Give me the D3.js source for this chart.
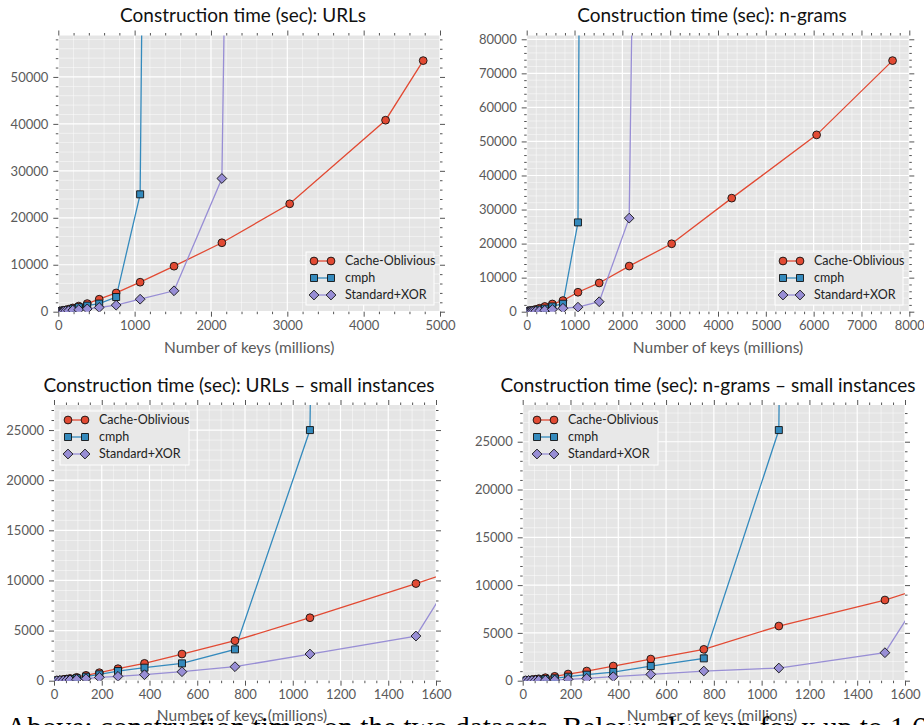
<!DOCTYPE html>
<html>
<head>
<meta charset="utf-8">
<script src="https://cdn.jsdelivr.net/npm/d3@7/dist/d3.min.js"></script>
<style>
  html, body { margin: 0; padding: 0; background: #ffffff; overflow: hidden; }
  svg { display: block; }
  text { font-family: Lato, "Open Sans", sans-serif; }
</style>
</head>
<body>
<svg id="chart" width="924" height="725"></svg>
<script>
// ---------------- DATA ----------------
const seriesNames = ["Cache-Oblivious", "cmph", "Standard+XOR"];

// URLs dataset (number of keys in millions)
const urlKeys   = [12, 25, 39, 53, 67, 95, 134, 190, 268, 379, 536, 758, 1072, 1516, 2143, 3031, 4287, 4780];
const urlCO     = [40, 80, 120, 170, 220, 332, 532, 798, 1197, 1729, 2660, 3990, 6280, 9690, 14680, 22980, 40780, 53475];
const urlCmph   = [25, 50, 80, 110, 150, 250, 400, 632, 964, 1297, 1729, 3125, 25000, 780000, null, null, null, null];
const urlXor    = [10, 25, 40, 60, 80, 130, 200, 332, 432, 598, 898, 1396, 2660, 4455, 28370, 1030000, null, null];

// n-grams dataset
const ngramKeys = [12, 25, 39, 53, 67, 95, 134, 190, 268, 379, 536, 758, 1072, 1516, 2143, 3031, 4287, 6062, 7650];
const ngramCO   = [35, 70, 110, 150, 200, 314, 453, 697, 1011, 1534, 2266, 3278, 5718, 8438, 13400, 19950, 33350, 51930, 73740];
const ngramCmph = [20, 40, 60, 80, 110, 170, 244, 418, 628, 907, 1534, 2336, 26220, 1200000, null, null, null, null, null];
const ngramXor  = [8, 15, 25, 35, 45, 60, 70, 140, 244, 418, 662, 1011, 1325, 2929, 27480, 945000, null, null, null];

// axis tick settings (values)
const bigUrlXTicks   = [0, 1000, 2000, 3000, 4000, 5000];
const bigNgramXTicks = [0, 1000, 2000, 3000, 4000, 5000, 6000, 7000, 8000];
const smallXTicks    = [0, 200, 400, 600, 800, 1000, 1200, 1400, 1600];
const bigUrlYTicks   = [0, 10000, 20000, 30000, 40000, 50000];
const bigNgramYTicks = [0, 10000, 20000, 30000, 40000, 50000, 60000, 70000, 80000];
const smallYTicks    = [0, 5000, 10000, 15000, 20000, 25000];

const captionText = "Above: construction times on the two datasets. Below: close up for x up to 1.6 billion keys.";

// ---------------- STYLE ----------------
const colors = ["#E24A33", "#348ABD", "#988ED5"];
const shapes = ["circle", "square", "diamond"];
const svg = d3.select("#chart");

function markerPath(shape) {
  if (shape === "circle") return d3.symbol().type(d3.symbolCircle).size(Math.PI * 3.9 * 3.9)();
  if (shape === "square") return d3.symbol().type(d3.symbolSquare).size(7 * 7)();
  const r = 4.9;
  return `M0,${-r}L${r},0L0,${r}L${-r},0Z`;
}

let clipId = 0;
function panel(cfg) {
  const {left, right, top, bottom, xDomain, yMax, xTicks, xMinorStep, yTicks, yMinorStep,
         keys, series, title, titleX, titleY, legend} = cfg;
  const x = d3.scaleLinear().domain(xDomain).range([left, right]);
  const y = d3.scaleLinear().domain([0, yMax]).range([bottom, top]);
  const g = svg.append("g");

  g.append("rect").attr("x", left).attr("y", top)
    .attr("width", right - left).attr("height", bottom - top).attr("fill", "#E5E5E5");

  const xMinor = d3.range(xDomain[0], xDomain[1] + 1e-9, xMinorStep).filter(v => !xTicks.includes(v));
  const yMinor = d3.range(0, yMax, yMinorStep).filter(v => !yTicks.includes(v));

  g.selectAll(null).data(xMinor).enter().append("line")
    .attr("x1", d => x(d)).attr("x2", d => x(d)).attr("y1", top).attr("y2", bottom)
    .attr("stroke", "#ffffff").attr("stroke-width", 0.6).attr("opacity", 0.85);
  g.selectAll(null).data(yMinor).enter().append("line")
    .attr("y1", d => y(d)).attr("y2", d => y(d)).attr("x1", left).attr("x2", right)
    .attr("stroke", "#ffffff").attr("stroke-width", 0.6).attr("opacity", 0.85);
  g.selectAll(null).data(xTicks).enter().append("line")
    .attr("x1", d => x(d)).attr("x2", d => x(d)).attr("y1", top).attr("y2", bottom)
    .attr("stroke", "#ffffff").attr("stroke-width", 1.2);
  g.selectAll(null).data(yTicks.filter(v => v <= yMax)).enter().append("line")
    .attr("y1", d => y(d)).attr("y2", d => y(d)).attr("x1", left).attr("x2", right)
    .attr("stroke", "#ffffff").attr("stroke-width", 1.2);

  const tickColor = "#555555";
  function styleAxis(sel) {
    sel.select(".domain").remove();
    sel.selectAll(".tick line").attr("stroke", tickColor).attr("stroke-width", 1);
    sel.selectAll("text").attr("fill", "#5a5a5a").style("font-size", "13px");
  }
  const fmt = d3.format("d");
  g.append("g").attr("transform", `translate(0,${bottom})`)
    .call(d3.axisBottom(x).tickValues(xTicks).tickFormat(fmt).tickSize(5).tickPadding(4))
    .call(styleAxis);
  g.append("g").attr("transform", `translate(0,${bottom})`)
    .call(d3.axisBottom(x).tickValues(xMinor).tickFormat("").tickSize(2.5))
    .call(styleAxis);
  g.append("g").attr("transform", `translate(0,${top})`)
    .call(d3.axisTop(x).tickValues(xTicks).tickFormat("").tickSize(5))
    .call(styleAxis);
  g.append("g").attr("transform", `translate(0,${top})`)
    .call(d3.axisTop(x).tickValues(xMinor).tickFormat("").tickSize(2.5))
    .call(styleAxis);
  g.append("g").attr("transform", `translate(${left},0)`)
    .call(d3.axisLeft(y).tickValues(yTicks.filter(v => v <= yMax)).tickFormat(fmt).tickSize(5).tickPadding(5))
    .call(styleAxis);
  g.append("g").attr("transform", `translate(${left},0)`)
    .call(d3.axisLeft(y).tickValues(yMinor).tickFormat("").tickSize(2.5))
    .call(styleAxis);
  g.append("g").attr("transform", `translate(${right},0)`)
    .call(d3.axisRight(y).tickValues(yTicks.filter(v => v <= yMax)).tickFormat("").tickSize(5))
    .call(styleAxis);
  g.append("g").attr("transform", `translate(${right},0)`)
    .call(d3.axisRight(y).tickValues(yMinor).tickFormat("").tickSize(2.5))
    .call(styleAxis);

  const id = "clip" + (clipId++);
  svg.append("clipPath").attr("id", id).append("rect")
    .attr("x", left).attr("y", top).attr("width", right - left).attr("height", bottom - top);
  const plot = g.append("g").attr("clip-path", `url(#${id})`);

  const line = d3.line().x(d => x(d[0])).y(d => y(d[1]));
  series.forEach((vals, i) => {
    const pts = keys.map((k, j) => [k, vals[j]]).filter(d => d[1] != null);
    plot.append("path").datum(pts).attr("d", line)
      .attr("fill", "none").attr("stroke", colors[i]).attr("stroke-width", 1.3);
  });
  series.forEach((vals, i) => {
    const pts = keys.map((k, j) => [k, vals[j]]).filter(d => d[1] != null);
    plot.selectAll(null).data(pts).enter().append("path")
      .attr("d", markerPath(shapes[i]))
      .attr("transform", d => `translate(${x(d[0])},${y(d[1])})`)
      .attr("fill", colors[i]).attr("stroke", "#111111").attr("stroke-width", 0.9);
  });

  svg.append("text").attr("x", titleX).attr("y", titleY).attr("text-anchor", "middle")
    .attr("fill", "#111111").style("font-size", "19px").text(title);
  svg.append("text").attr("x", (left + right) / 2 + cfg.xLabelDx).attr("y", bottom + cfg.xLabelDy)
    .attr("text-anchor", "middle").attr("fill", "#5a5a5a").style("font-size", "15.5px")
    .text("Number of keys (millions)");

  const lg = svg.append("g").attr("transform", `translate(${legend.x},${legend.y})`);
  lg.append("rect").attr("x", 0).attr("y", 0).attr("width", legend.w).attr("height", legend.h)
    .attr("fill", "#E8E8E8").attr("stroke", "#ffffff").attr("stroke-width", 1);
  seriesNames.forEach((name, i) => {
    const cy = 9 + i * 17;
    lg.append("line").attr("x1", 8).attr("x2", 25).attr("y1", cy).attr("y2", cy)
      .attr("stroke", colors[i]).attr("stroke-width", 1.3);
    [8, 25].forEach(mx => {
      lg.append("path").attr("d", markerPath(shapes[i]))
        .attr("transform", `translate(${mx},${cy})`)
        .attr("fill", colors[i]).attr("stroke", "#111111").attr("stroke-width", 0.9);
    });
    lg.append("text").attr("x", 39).attr("y", cy).attr("dy", "0.35em")
      .attr("fill", "#222222").style("font-size", "12.5px").text(name);
  });
}

panel({left: 58.3, right: 440, top: 35.5, bottom: 311.7, xDomain: [0, 5000],
  yMax: d3.max(urlCO) * 1.1, xTicks: bigUrlXTicks, xMinorStep: 200, yTicks: bigUrlYTicks, yMinorStep: 2000,
  keys: urlKeys, series: [urlCO, urlCmph, urlXor], title: "Construction time (sec): URLs",
  titleX: 243, titleY: 22, xLabelDx: 0, xLabelDy: 41,
  legend: {x: 306, y: 252, w: 128, h: 53}});

panel({left: 526.7, right: 909.3, top: 35.5, bottom: 311.7, xDomain: [0, 8000],
  yMax: d3.max(ngramCO) * 1.1, xTicks: bigNgramXTicks, xMinorStep: 200, yTicks: bigNgramYTicks, yMinorStep: 2000,
  keys: ngramKeys, series: [ngramCO, ngramCmph, ngramXor], title: "Construction time (sec): n-grams",
  titleX: 712, titleY: 22, xLabelDx: 0, xLabelDy: 41,
  legend: {x: 775, y: 252, w: 128, h: 53}});

panel({left: 54, right: 436, top: 405, bottom: 680.7, xDomain: [0, 1600],
  yMax: urlCmph[12] * 1.1, xTicks: smallXTicks, xMinorStep: 50, yTicks: smallYTicks, yMinorStep: 1000,
  keys: urlKeys, series: [urlCO, urlCmph, urlXor], title: "Construction time (sec): URLs \u2013 small instances",
  titleX: 239, titleY: 392, xLabelDx: -3, xLabelDy: 40,
  legend: {x: 60, y: 411, w: 129, h: 54}});

panel({left: 522.7, right: 905, top: 405, bottom: 680.7, xDomain: [0, 1600],
  yMax: ngramCmph[12] * 1.1, xTicks: smallXTicks, xMinorStep: 50, yTicks: smallYTicks, yMinorStep: 1000,
  keys: ngramKeys, series: [ngramCO, ngramCmph, ngramXor], title: "Construction time (sec): n-grams \u2013 small instances",
  titleX: 708, titleY: 392, xLabelDx: -2, xLabelDy: 40,
  legend: {x: 529, y: 411, w: 129, h: 54}});

svg.append("text").attr("x", 6).attr("y", 737)
  .style("font-family", "'Liberation Serif', 'DejaVu Serif', serif").style("font-size", "29.4px")
  .attr("fill", "#000000").text(captionText);
</script>
</body>
</html>
